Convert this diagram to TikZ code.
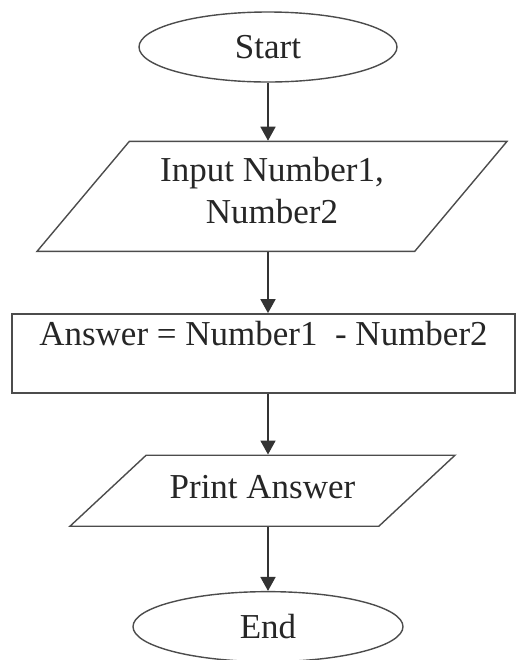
\documentclass[tikz,border=0pt]{standalone}
\usepackage{fontspec}
\setmainfont{Liberation Serif}
\usepackage{tikz}
\usetikzlibrary{shapes.geometric, arrows.meta, positioning}
\tikzset{
    terminal/.style={
        ellipse,
        draw=black!70,
        line width=0.7pt,
        minimum width=129pt,
        minimum height=35pt,
        inner sep=0pt,
        text=black!85,
        font=\fontsize{17.5}{21}\selectfont
    },
    io/.style={
        trapezium,
        trapezium stretches body,
        draw=black!70,
        line width=0.7pt,
        inner xsep=0pt,
        align=center,
        text=black!85,
        font=\fontsize{17.5}{21}\selectfont
    },
    process/.style={
        rectangle,
        draw=black!70,
        line width=0.7pt,
        minimum width=251.5pt,
        minimum height=39.5pt,
        inner sep=0pt,
        text depth=20pt,
        text=black!85,
        font=\fontsize{17.5}{21}\selectfont
    },
    flow/.style={
        draw=black!80,
        line width=0.9pt,
        -{Triangle[width=7.5pt,length=7pt]}
    }
}

\begin{document}
\begin{tikzpicture}
\useasboundingbox (0,0) rectangle (259pt,-330pt);

% Terminals and steps
\node[terminal] (start) at (134pt,-23.5pt) {Start};
\node[io, trapezium left angle=50, trapezium right angle=130,
      text height=33pt, text depth=6pt, inner ysep=8pt, minimum width=235pt,
      below=29pt of start, xshift=2pt] (input) {Input Number1,\\Number2};
\node[process, below=30.5pt of input, xshift=-4.25pt] (calc) {Answer = Number1~ - Number2};
\node[io, trapezium left angle=43, trapezium right angle=137,
      text height=12pt, text depth=4.5pt, inner ysep=9.5pt, minimum width=192.5pt,
      below=30.5pt of calc, xshift=-0.5pt] (print) {Print Answer};
\node[terminal, minimum width=135pt, below=32pt of print, xshift=2.75pt] (end) {End};

% Flow lines
\draw[flow] (start) -- (start |- input.north);
\draw[flow] (input.south -| start) -- (calc.north -| start);
\draw[flow] (calc.south -| start) -- (print.north -| start);
\draw[flow] (print.south -| start) -- (end);

\end{tikzpicture}
\end{document}
